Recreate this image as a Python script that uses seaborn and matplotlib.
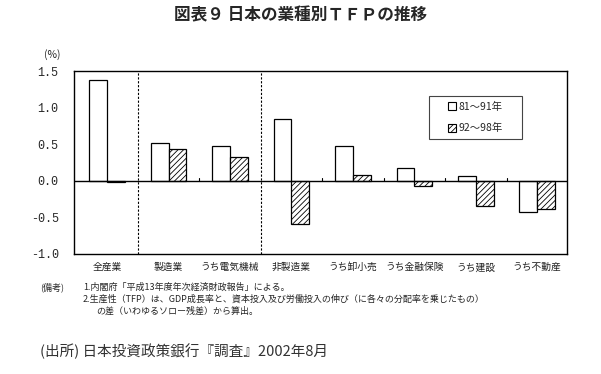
import numpy as np
import pandas as pd
import matplotlib
matplotlib.use("Agg")
import matplotlib.pyplot as plt
from matplotlib.patches import Patch, Rectangle
import seaborn as sns

# data
categories = ["全産業", "製造業", "うち電気機械", "非製造業",
              "うち卸小売", "うち金融保険", "うち建設", "うち不動産"]
period_labels = ["81～91年", "92～98年"]
tfp_81_91 = [1.38, 0.52, 0.48, 0.85, 0.48, 0.17, 0.06, -0.42]
tfp_92_98 = [-0.02, 0.43, 0.32, -0.59, 0.08, -0.07, -0.35, -0.38]
yticks = [-1.0, -0.5, 0.0, 0.5, 1.0, 1.5]

sns.set_style("white")
plt.rcParams["font.family"] = ["Noto Sans CJK JP", "DejaVu Sans"]
plt.rcParams["hatch.linewidth"] = 0.6

df = pd.DataFrame({
    "cat": categories * 2,
    "period": [period_labels[0]] * len(categories) + [period_labels[1]] * len(categories),
    "tfp": tfp_81_91 + tfp_92_98,
})

fig = plt.figure(figsize=(6.01, 3.74), dpi=100)
ax = fig.add_axes([0.123, 0.321, 0.820, 0.489])

sns.barplot(data=df, x="cat", y="tfp", hue="period", order=categories,
            hue_order=period_labels, width=0.58, legend=False, ax=ax,
            edgecolor="black", linewidth=0.9)

n = len(categories)
for i, bar in enumerate(ax.patches):
    bar.set_facecolor("white")
    bar.set_edgecolor("black")
    if i >= n:
        bar.set_hatch("//////")

ax.set_xlim(-0.54, 7.48)
ax.set_ylim(-1.0, 1.5)
ax.set_yticks(yticks)
ax.set_yticklabels([f"{v:.1f}" for v in yticks], family="Liberation Mono", fontsize=8.5)
ax.tick_params(axis="y", length=0, pad=11)
ax.tick_params(axis="x", length=0, pad=6, labelsize=7, labelcolor="#222222")
ax.set_xlabel("")
ax.set_ylabel("")

for s in ax.spines.values():
    s.set_color("black")
    s.set_linewidth(1.0)

ax.axhline(0, color="black", lw=1.0, zorder=3)
for xv in [0.5, 2.5]:
    ax.axvline(xv, color="black", lw=0.8, ls=(0, (2, 1.5)))
for xv in [1.5, 3.5, 4.5, 5.5, 6.5]:
    ax.plot([xv, xv], [0, 0.035], color="black", lw=0.8)

# legend: framed box with entries centred inside
ax.add_patch(Rectangle((0.72, 0.63), 0.189, 0.233, transform=ax.transAxes,
                       facecolor="white", edgecolor="#444444", lw=0.8, zorder=4))
handles = [Patch(facecolor="white", edgecolor="black", lw=0.8),
           Patch(facecolor="white", edgecolor="black", lw=0.8, hatch="//////")]
leg = ax.legend(handles, period_labels, loc="center", bbox_to_anchor=(0.8145, 0.7465),
                frameon=False, fontsize=7.5, handlelength=0.8, handleheight=0.8,
                handletextpad=0.2, labelspacing=1.1, borderaxespad=0)
leg.set_zorder(5)

fig.text(0.5, 0.958, "図表９ 日本の業種別ＴＦＰの推移", ha="center", va="center",
         fontsize=12, fontweight="bold")
fig.text(0.087, 0.853, "(%)", ha="center", va="center", fontsize=7.5)

fig.text(0.067, 0.233, "(備考)", ha="left", va="center", fontsize=6.5)
fig.text(0.138, 0.233, "1.内閣府「平成13年度年次経済財政報告」による。",
         ha="left", va="center", fontsize=6.5)
fig.text(0.138, 0.199, "2.生産性（TFP）は、GDP成長率と、資本投入及び労働投入の伸び（に各々の分配率を乗じたもの）",
         ha="left", va="center", fontsize=6.5)
fig.text(0.160, 0.169, "の差（いわゆるソロー残差）から算出。",
         ha="left", va="center", fontsize=6.5)
fig.text(0.067, 0.060, "(出所) 日本投資政策銀行『調査』2002年8月",
         ha="left", va="center", fontsize=10.5, color="#333333")

fig.savefig("out.png", dpi=100)
